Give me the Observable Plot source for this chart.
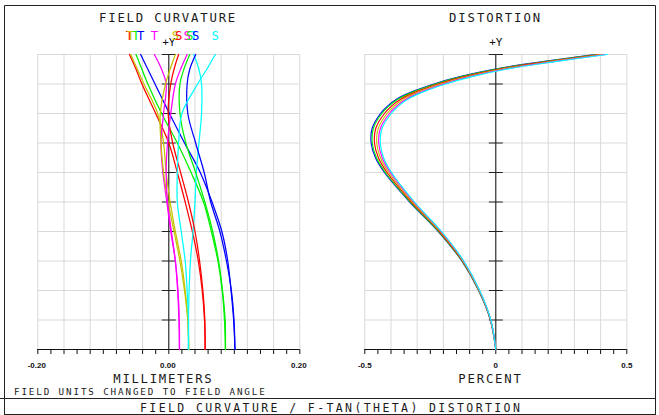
<!DOCTYPE html>
<html><head><meta charset="utf-8">
<script src="https://cdn.jsdelivr.net/npm/d3@7"></script>
<script src="https://cdn.jsdelivr.net/npm/@observablehq/plot@0.6"></script>
<style>
html,body{margin:0;padding:0;background:#fff;}
#wrap{position:relative;width:659px;height:415px;overflow:hidden;background:#fff;}
#wrap > svg{position:absolute;top:0;}
</style></head><body><div id="wrap"></div>
<script>
// ---------- DATA ----------
// relative field (0 = axis, 1 = full field)
const fcField = [0, 0.1, 0.2, 0.3, 0.4, 0.5, 0.6, 0.7, 0.8, 0.9, 0.95, 1.0];
// field curvature (millimeters), tangential (T) and sagittal (S) per wavelength
const fcRedT     = [0.0555, 0.0545, 0.051, 0.045, 0.036, 0.025, 0.013, 0.000, -0.020, -0.041, -0.050, -0.060];
const fcRedS     = [0.0555, 0.055, 0.052, 0.047, 0.040, 0.030, 0.018, 0.006, -0.001, 0.003, 0.008, 0.015];
const fcGreenT   = [0.0865, 0.085, 0.0815, 0.075, 0.065, 0.053, 0.034, 0.013, -0.011, -0.032, -0.041, -0.050];
const fcGreenS   = [0.0865, 0.086, 0.082, 0.076, 0.067, 0.055, 0.041, 0.026, 0.017, 0.017, 0.023, 0.032];
const fcBlueT    = [0.101, 0.099, 0.095, 0.090, 0.081, 0.066, 0.048, 0.024, 0.001, -0.021, -0.032, -0.043];
const fcBlueS    = [0.101, 0.0995, 0.0955, 0.088, 0.078, 0.064, 0.054, 0.041, 0.029, 0.028, 0.032, 0.041];
const fcYellowT  = [0.0305, 0.029, 0.025, 0.019, 0.010, 0.002, -0.004, -0.008, -0.017, -0.038, -0.048, -0.058];
const fcYellowS  = [0.0305, 0.029, 0.024, 0.017, 0.008, -0.001, -0.008, -0.012, -0.013, -0.005, 0.002, 0.010];
const fcMagentaT = [0.0163, 0.016, 0.014, 0.010, 0.003, -0.003, -0.009, -0.012, -0.008, -0.004, -0.011, -0.022];
const fcMagentaS = [0.0163, 0.0155, 0.0135, 0.010, 0.004, -0.002, -0.004, -0.002, 0.003, 0.010, 0.018, 0.028];
const fcCyanT    = [0.030, 0.030, 0.031, 0.033, 0.037, 0.040, 0.042, 0.046, 0.050, 0.050, 0.046, 0.038];
const fcCyanS    = [0.030, 0.030, 0.028, 0.025, 0.019, 0.013, 0.013, 0.015, 0.020, 0.044, 0.058, 0.071];

// distortion (percent)
const dsField   = [0, 0.1, 0.2, 0.3, 0.4, 0.5, 0.6, 0.65, 0.7, 0.75, 0.8, 0.825, 0.85, 0.875, 0.9, 0.925, 0.95, 0.975, 1.0];
const dsBlue    = [0, -0.0208, -0.0655, -0.1297, -0.2195, -0.3288, -0.4248, -0.4593, -0.4758, -0.4718, -0.440, -0.4133, -0.3758, -0.3161, -0.2365, -0.1368, -0.0073, 0.172, 0.377];
const dsGreen   = [0, -0.0205, -0.065, -0.1288, -0.218, -0.3265, -0.4215, -0.4555, -0.4715, -0.4672, -0.435, -0.4082, -0.3705, -0.3107, -0.231, -0.1312, -0.0015, 0.178, 0.383];
const dsRed     = [0, -0.020, -0.064, -0.127, -0.215, -0.322, -0.415, -0.448, -0.463, -0.458, -0.425, -0.398, -0.360, -0.300, -0.220, -0.120, 0.010, 0.190, 0.395];
const dsYellow  = [0, -0.0195, -0.063, -0.1252, -0.212, -0.3175, -0.4085, -0.4405, -0.4545, -0.4488, -0.415, -0.3878, -0.3495, -0.2893, -0.209, -0.1088, 0.0215, 0.202, 0.407];
const dsMagenta = [0, -0.0191, -0.0621, -0.1236, -0.2093, -0.3135, -0.4027, -0.4338, -0.4469, -0.4405, -0.406, -0.3786, -0.340, -0.2797, -0.1991, -0.0987, 0.0319, 0.2128, 0.4178];
const dsCyan    = [0, -0.0187, -0.0614, -0.1223, -0.2072, -0.3103, -0.3981, -0.4285, -0.4409, -0.4341, -0.399, -0.3715, -0.3327, -0.2722, -0.1914, -0.0909, 0.0399, 0.2212, 0.4262];

// ticks
const fieldGrid   = [0.1, 0.2, 0.3, 0.4, 0.5, 0.6, 0.7, 0.8, 0.9, 1.0];
const fcGrid      = [-0.20, -0.16, -0.12, -0.08, -0.04, 0, 0.04, 0.08, 0.12, 0.16, 0.20];
const fcMinor     = [-0.20, -0.18, -0.16, -0.14, -0.12, -0.10, -0.08, -0.06, -0.04, -0.02, 0, 0.02, 0.04, 0.06, 0.08, 0.10, 0.12, 0.14, 0.16, 0.18, 0.20];
const fcLabels    = [-0.20, 0, 0.20];
const fcLabelText = ["-0.20", "0.00", "0.20"];
const dsGrid      = [-0.5, -0.4, -0.3, -0.2, -0.1, 0, 0.1, 0.2, 0.3, 0.4, 0.5];
const dsMinor     = [-0.5, -0.45, -0.4, -0.35, -0.3, -0.25, -0.2, -0.15, -0.1, -0.05, 0, 0.05, 0.1, 0.15, 0.2, 0.25, 0.3, 0.35, 0.4, 0.45, 0.5];
const dsLabels    = [-0.5, 0, 0.5];
const dsLabelText = ["-0.5", "0", "0.5"];

const colors = {red: "#ff0000", green: "#00f000", blue: "#0000ff", yellow: "#c4c400", magenta: "#ff00ff", cyan: "#00ffff"};

const fcSeries = [
  {color: colors.red, type: "T", v: fcRedT}, {color: colors.yellow, type: "T", v: fcYellowT},
  {color: colors.green, type: "T", v: fcGreenT}, {color: colors.blue, type: "T", v: fcBlueT},
  {color: colors.magenta, type: "T", v: fcMagentaT}, {color: colors.cyan, type: "T", v: fcCyanT},
  {color: colors.yellow, type: "S", v: fcYellowS}, {color: colors.red, type: "S", v: fcRedS},
  {color: colors.magenta, type: "S", v: fcMagentaS}, {color: colors.green, type: "S", v: fcGreenS},
  {color: colors.blue, type: "S", v: fcBlueS}, {color: colors.cyan, type: "S", v: fcCyanS}
];
const dsSeries = [
  {color: colors.blue, v: dsBlue}, {color: colors.green, v: dsGreen}, {color: colors.red, v: dsRed},
  {color: colors.yellow, v: dsYellow}, {color: colors.magenta, v: dsMagenta}, {color: colors.cyan, v: dsCyan}
];

// ---------- DRAW ----------
const hline = {draw(ctx, size) { const r = Math.sqrt(size / Math.PI); ctx.moveTo(-r, 0); ctx.lineTo(r, 0); }};
const gridColor = "#d9d9d9";
const mono = "DejaVu Sans Mono";

function commonMarks(grid, minor) {
  return [
    Plot.gridX({ticks: grid, stroke: gridColor, strokeOpacity: 1, strokeWidth: 1}),
    Plot.gridY({ticks: fieldGrid, stroke: gridColor, strokeOpacity: 1, strokeWidth: 1}),
    Plot.axisX({ticks: minor, tickSize: 5, tickFormat: () => "", anchor: "bottom", label: null, stroke: "#111"}),
    Plot.ruleY([0], {stroke: "#111"}),
    Plot.ruleX([0], {stroke: "#111"}),
    Plot.dot(fieldGrid, {x: 0, y: d => d, symbol: hline, r: 7, stroke: "#222", strokeWidth: 1}),
    Plot.text(["+Y"], {x: 0, frameAnchor: "top", lineAnchor: "bottom", dy: -9, fontFamily: mono, fontSize: 11, fill: "#111"})
  ];
}

const fcMarks = commonMarks(fcGrid, fcMinor);
for (const s of fcSeries) {
  const pts = fcField.map((f, i) => ({f, v: s.v[i]}));
  fcMarks.push(Plot.line(pts, {x: "v", y: "f", stroke: s.color, strokeWidth: 1.25, curve: "catmull-rom"}));
}
for (const s of fcSeries) {
  fcMarks.push(Plot.text([{f: fcField[fcField.length - 1], v: s.v[s.v.length - 1]}],
    {x: "v", y: "f", text: () => s.type, fill: s.color, lineAnchor: "bottom", dy: -14.7, fontFamily: mono, fontSize: 12.3}));
}
fcMarks.push(Plot.text(fcLabels, {x: d => d, text: (d, i) => fcLabelText[i], frameAnchor: "bottom", lineAnchor: "bottom", dy: 18.3,
  dx: -1, fontFamily: "Liberation Sans", fontWeight: "bold", fontSize: 8, fill: "#111"}));

const dsMarks = commonMarks(dsGrid, dsMinor);
for (const s of dsSeries) {
  const pts = dsField.map((f, i) => ({f, v: s.v[i]}));
  dsMarks.push(Plot.line(pts, {x: "v", y: "f", stroke: s.color, strokeWidth: 1.15, curve: "catmull-rom"}));
}
dsMarks.push(Plot.text(dsLabels, {x: d => d, text: (d, i) => dsLabelText[i], frameAnchor: "bottom", lineAnchor: "bottom", dy: 18.3,
  fontFamily: "Liberation Sans", fontWeight: "bold", fontSize: 8, fill: "#111"}));

const left = Plot.plot({
  width: 330, height: 415,
  marginLeft: 37.3, marginRight: 30.7, marginTop: 54, marginBottom: 66,
  x: {domain: [-0.2, 0.2], axis: null},
  y: {domain: [0, 1], axis: null},
  style: {background: "none", overflow: "visible"},
  marks: fcMarks
});
const right = Plot.plot({
  width: 329, height: 415,
  marginLeft: 34.3, marginRight: 32.7, marginTop: 54, marginBottom: 66,
  x: {domain: [-0.5, 0.5], axis: null},
  y: {domain: [0, 1], axis: null},
  style: {background: "none", overflow: "visible"},
  marks: dsMarks
});
left.style.left = "0px";
right.style.left = "330px";
const wrap = document.getElementById("wrap");
wrap.appendChild(left);
wrap.appendChild(right);

// frame and titles
const ov = d3.select(wrap).append("svg").attr("width", 659).attr("height", 415).style("left", "0px");
const ln = (x1, y1, x2, y2) => ov.append("line").attr("x1", x1).attr("y1", y1).attr("x2", x2).attr("y2", y2).attr("stroke", "#222").attr("stroke-width", 1);
ln(4.5, 5.5, 655.5, 5.5);
ln(4.5, 5.5, 4.5, 415);
ln(655.5, 5.5, 655.5, 415);
ln(0, 398.5, 655.5, 398.5);
ln(4.5, 414.5, 655.5, 414.5);
const txt = (x, y, s, size, ls) => ov.append("text").attr("x", x).attr("y", y).text(s)
  .attr("font-family", mono).attr("font-size", size).attr("letter-spacing", ls).attr("fill", "#1a1a1a");
txt(99, 21.7, "FIELD CURVATURE", 12.3, 1.8);
txt(449, 21.7, "DISTORTION", 12.3, 1.9);
txt(113.3, 383.3, "MILLIMETERS", 12.3, 1.7);
txt(458.3, 383.3, "PERCENT", 12.3, 1.8);
txt(14, 395, "FIELD UNITS CHANGED TO FIELD ANGLE", 9.2, 1.9);
txt(140, 411.7, "FIELD CURVATURE / F-TAN(THETA) DISTORTION", 11.5, 2.4);
</script></body></html>
